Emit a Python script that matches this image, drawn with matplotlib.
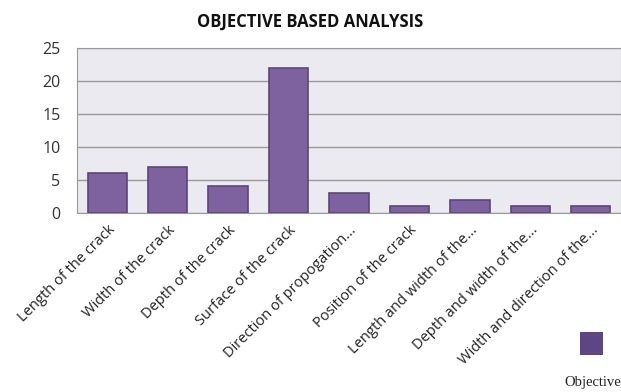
import matplotlib.pyplot as plt
import numpy as np

categories = ['Length of the crack', 'Width of the crack', 'Depth of the crack',
              'Surface of the crack', 'Direction of propogation...',
              'Position of the crack', 'Length and width of the...',
              'Depth and width of the...', 'Width and direction of the...']
values = [6, 7, 4, 22, 3, 1, 2, 1, 1]
yticks = [0, 5, 10, 15, 20, 25]

plt.rcParams['font.family'] = ['Open Sans', 'DejaVu Sans']

fig = plt.figure(figsize=(6.21, 3.92), dpi=100)
ax = fig.add_axes([0.124, 0.457, 0.876, 0.421])
ax.set_facecolor('#ECEAF1')

x = np.arange(len(categories))
ax.bar(x, values, width=0.65, color='#7E62A0', edgecolor='#5B4678', linewidth=1.2, zorder=3)

ax.set_xlim(-0.5, len(categories) - 0.5)
ax.set_ylim(0, 25)
ax.set_yticks(yticks)
ax.set_yticklabels([str(v) for v in yticks], fontsize=11.5, color='#333333')
ax.yaxis.grid(True, color='#9A9A9A', linewidth=1, zorder=0)
ax.tick_params(axis='y', length=0, pad=12)
ax.tick_params(axis='x', length=0, pad=7)
ax.set_xticks(x)
ax.set_xticklabels(categories, rotation=45, ha='right', rotation_mode='anchor',
                   fontsize=10.5, color='#222222')
for s in ax.spines.values():
    s.set_color('#9A9A9A')

fig.text(0.5, 0.944, 'OBJECTIVE BASED ANALYSIS', ha='center', va='center',
         fontsize=12, fontweight='bold', color='#111111')

# legend key
fig.patches.append(plt.Rectangle((0.934, 0.095), 0.037, 0.058, transform=fig.transFigure,
                                 facecolor='#5E4585', edgecolor='none'))
fig.text(0.955, 0.025, 'Objective', ha='center', va='center', fontsize=10.5,
         family='Liberation Serif', color='#222222')

plt.savefig('out.png', dpi=100)
